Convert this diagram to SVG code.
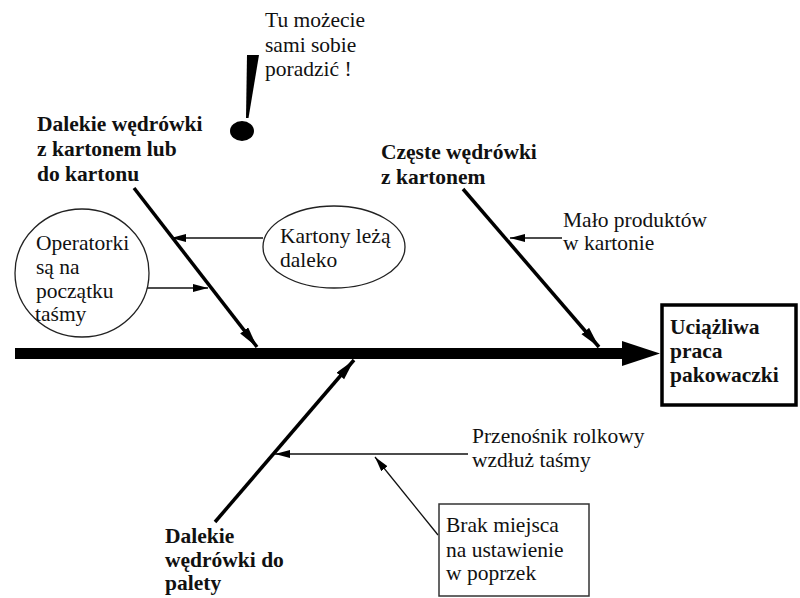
<svg xmlns="http://www.w3.org/2000/svg" width="800" height="598" viewBox="0 0 800 598">
<style>
text{font-family:'Liberation Serif','Times New Roman',serif;font-size:21.5px;fill:#111}
.b{font-weight:bold}
.thin{stroke:#111;stroke-width:1.3;fill:none}
.bone{stroke:#000;stroke-width:3.5;fill:none}
.shape{fill:#fff;stroke:#222;stroke-width:1.3}
</style>
<defs>
<marker id="ah" markerUnits="userSpaceOnUse" markerWidth="16" markerHeight="10" refX="15" refY="4" orient="auto">
<path d="M0,0 L15,4 L0,8 Z" fill="#000"/>
</marker>
<marker id="ahb" markerUnits="userSpaceOnUse" markerWidth="22" markerHeight="12" refX="21" refY="5" orient="auto">
<path d="M0,0 L21,5 L0,10 Z" fill="#000"/>
</marker>
</defs>
<rect width="800" height="598" fill="#fff"/>
<g id="connectors">
<rect x="15" y="348" width="610" height="11" fill="#000"/>
<path d="M622,341 L660,353.5 L622,366 Z" fill="#000"/>
<line class="bone" x1="134" y1="188" x2="257" y2="347" marker-end="url(#ahb)"/>
<line class="bone" x1="463" y1="189" x2="599" y2="347" marker-end="url(#ahb)"/>
<line class="bone" x1="215" y1="522" x2="354" y2="360" marker-end="url(#ahb)"/>
<line class="thin" x1="263" y1="238" x2="171" y2="238" marker-end="url(#ah)"/>
<line class="thin" x1="131" y1="288" x2="208" y2="288" marker-end="url(#ah)"/>
<line class="thin" x1="562" y1="238" x2="510" y2="238" marker-end="url(#ah)"/>
<line class="thin" x1="468" y1="454" x2="275" y2="454" marker-end="url(#ah)"/>
<line class="thin" x1="438" y1="535" x2="375" y2="457" marker-end="url(#ah)"/>
</g>
<g id="exclamation">
<path d="M247,55 L259,55 L248.5,118 L246,118 Z" fill="#000"/>
<ellipse cx="242" cy="131" rx="12" ry="10" fill="#000"/>
<text x="265" y="27">Tu możecie</text>
<text x="265" y="52">sami sobie</text>
<text x="265" y="76">poradzić !</text>
</g>
<g id="cause-dalekie-karton">
<text class="b" x="37" y="131">Dalekie wędrówki</text>
<text class="b" x="37" y="156">z kartonem lub</text>
<text class="b" x="37" y="181">do kartonu</text>
</g>
<g id="cause-czeste">
<text class="b" x="381" y="159">Częste wędrówki</text>
<text class="b" x="381" y="184">z kartonem</text>
</g>
<g id="cause-palety">
<text class="b" x="165" y="543">Dalekie</text>
<text class="b" x="165" y="567">wędrówki do</text>
<text class="b" x="165" y="590">palety</text>
</g>
<g id="operatorki">
<ellipse class="shape" cx="82" cy="273" rx="67" ry="64"/>
<text x="36" y="250">Operatorki</text>
<text x="36" y="274">są na</text>
<text x="36" y="298">początku</text>
<text x="35" y="321">taśmy</text>
</g>
<g id="kartony">
<ellipse class="shape" cx="334" cy="247" rx="71" ry="41"/>
<text x="280" y="243">Kartony leżą</text>
<text x="280" y="267">daleko</text>
</g>
<g id="malo">
<text x="563" y="227">Mało produktów</text>
<text x="563" y="250">w kartonie</text>
</g>
<g id="przenosnik">
<text x="472" y="443">Przenośnik rolkowy</text>
<text x="472" y="467">wzdłuż taśmy</text>
</g>
<g id="brak">
<rect x="439" y="504" width="150" height="92" fill="#fff" stroke="#333" stroke-width="1.5"/>
<text x="446" y="532">Brak miejsca</text>
<text x="446" y="557">na ustawienie</text>
<text x="446" y="580">w poprzek</text>
</g>
<g id="effect">
<rect x="662" y="305" width="134" height="100" fill="#fff" stroke="#000" stroke-width="3.5"/>
<text class="b" x="670" y="334">Uciążliwa</text>
<text class="b" x="670" y="358">praca</text>
<text class="b" x="670" y="382">pakowaczki</text>
</g>
</svg>
